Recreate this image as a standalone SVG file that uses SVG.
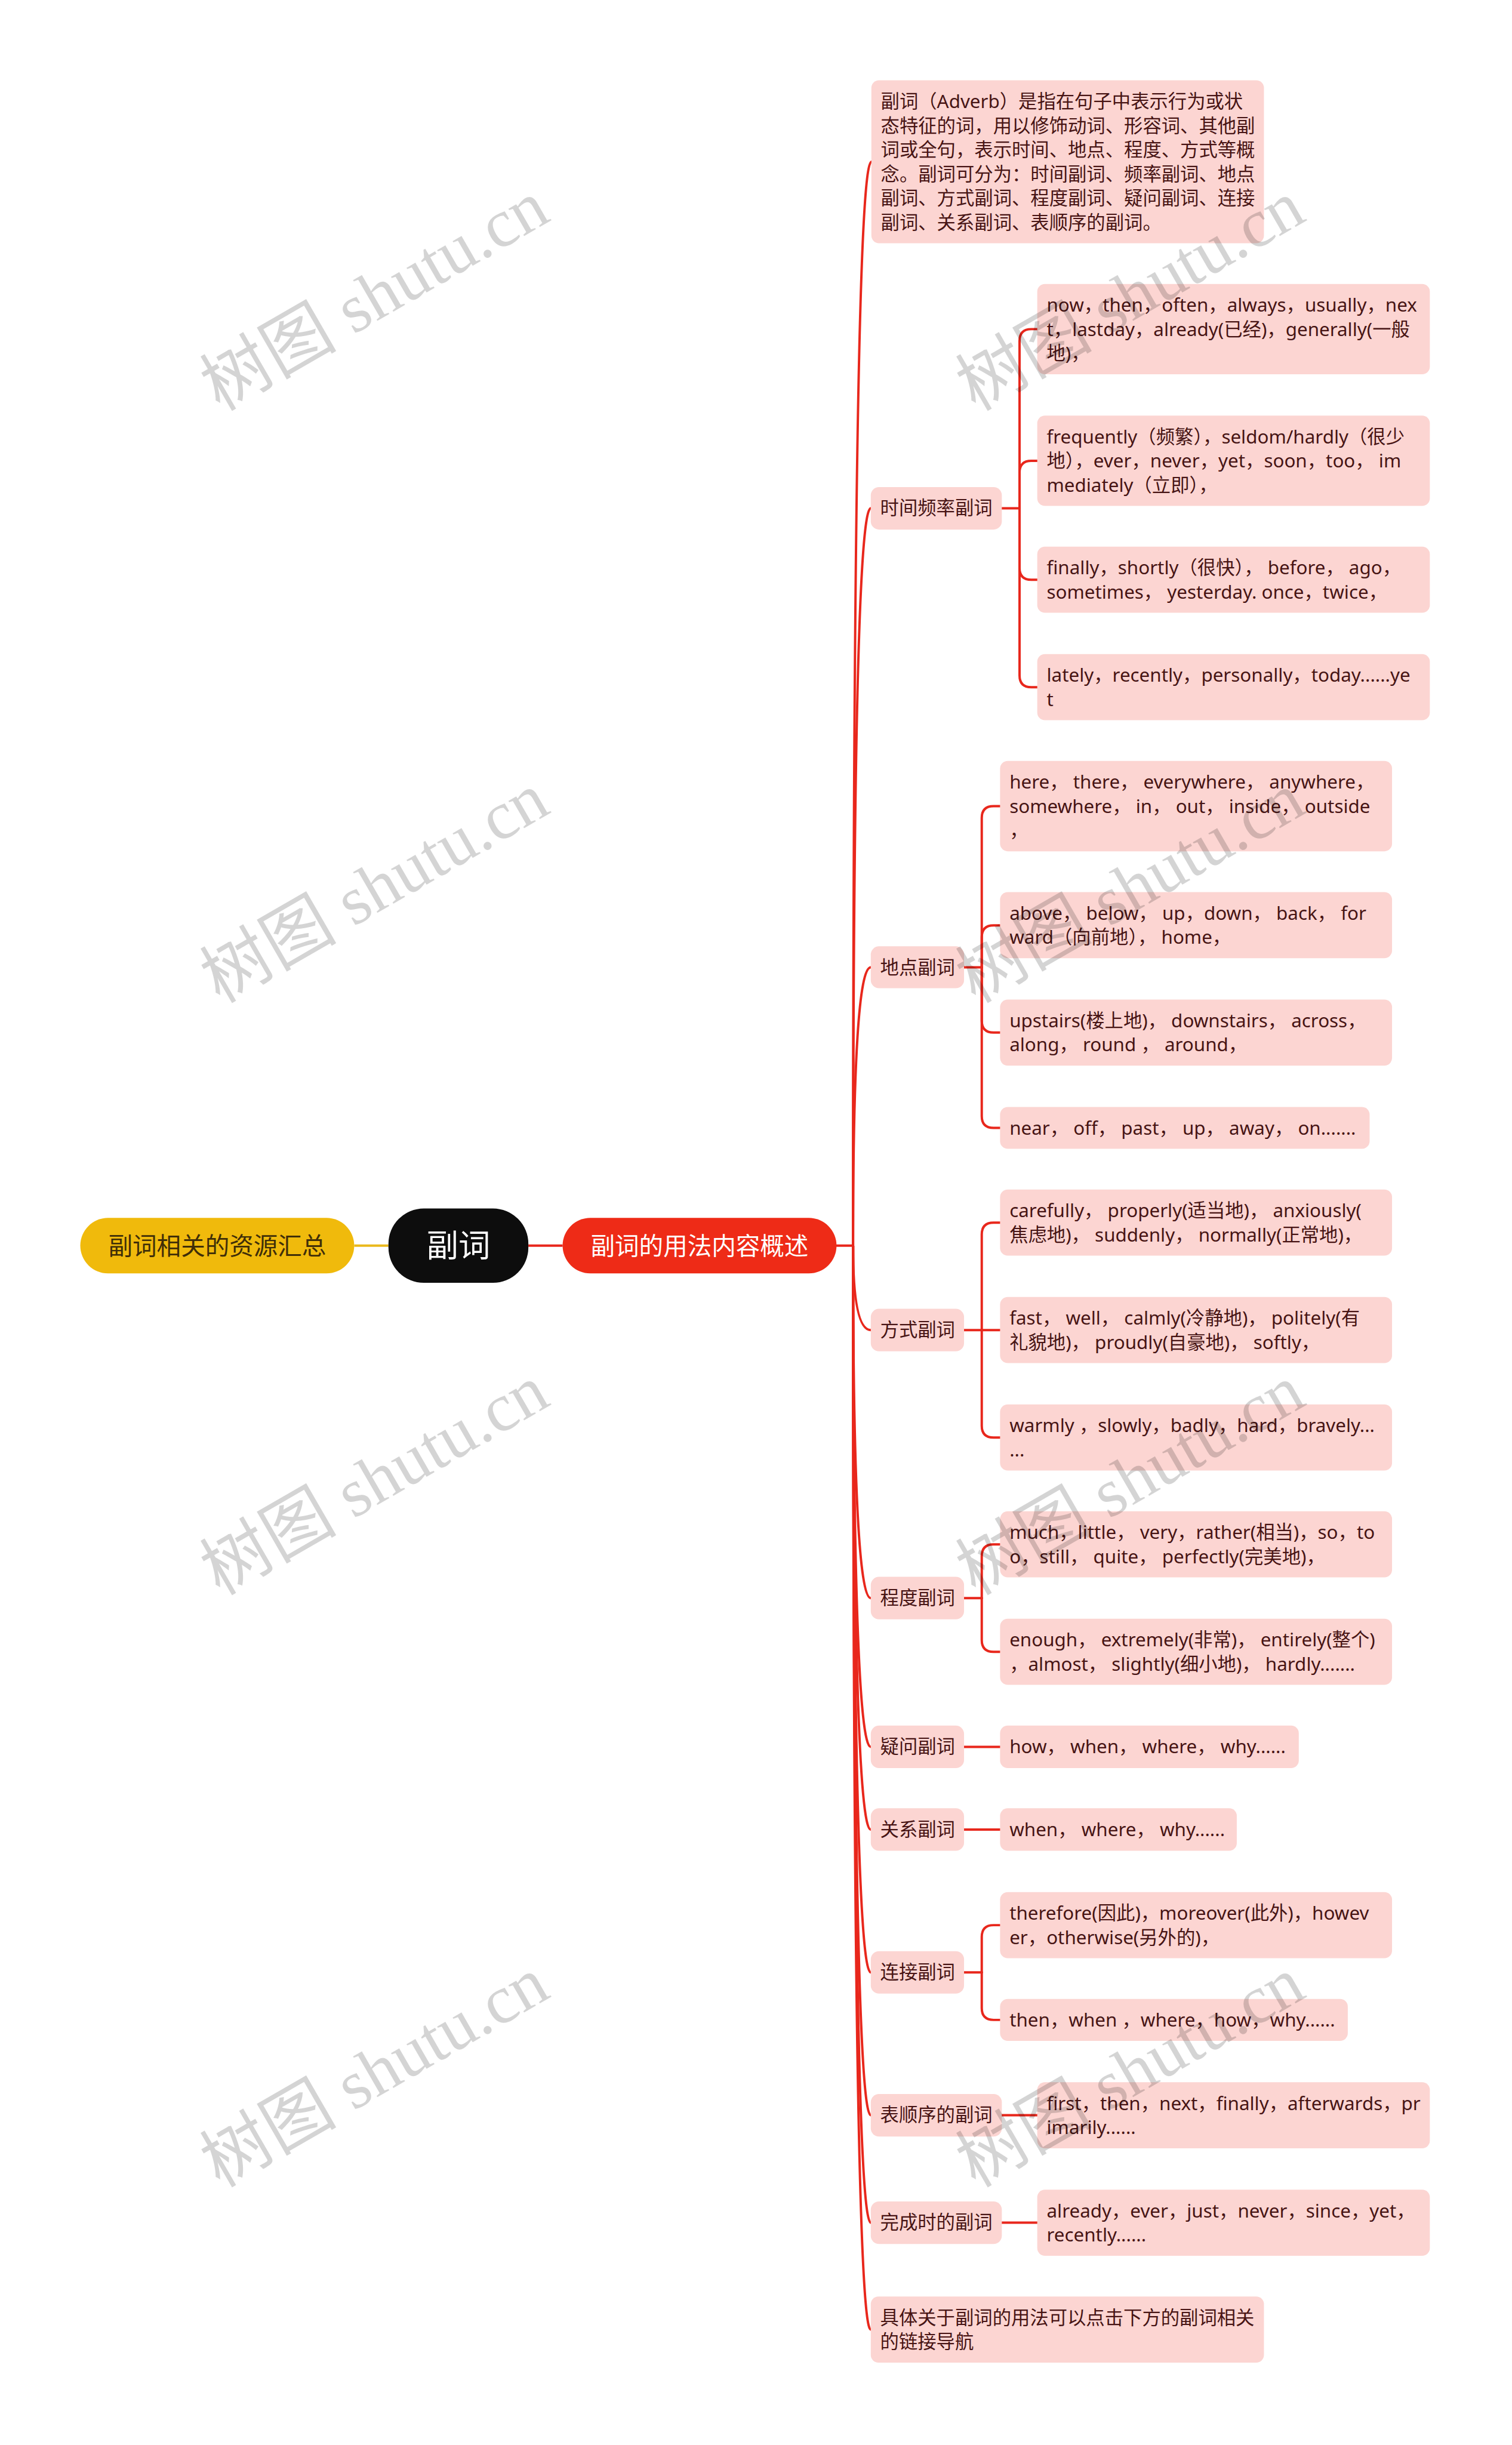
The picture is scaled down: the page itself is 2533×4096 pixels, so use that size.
<svg xmlns="http://www.w3.org/2000/svg" width="2533" height="4096" viewBox="0 0 2533 4096">
<style>
.box{fill:#fcd5d2}
.t{font-family:"Noto Sans","Noto Sans CJK SC",sans-serif;font-size:31.7px;fill:#471414}
.ln{fill:none;stroke:#e8271c;stroke-width:4;stroke-linecap:round;stroke-linejoin:round}
.wm{font-family:"Liberation Serif","Noto Sans CJK SC",serif;font-size:116px;fill:#000;fill-opacity:0.17}
</style>
<rect x="0" y="0" width="2533" height="4096" fill="#ffffff"/>
<g transform="scale(0.989)">
<g id="connectors">
<line x1="600" y1="2110" x2="658" y2="2110" stroke="#eab91c" stroke-width="4"/>
<line x1="895" y1="2110" x2="953" y2="2110" stroke="#e8271c" stroke-width="4"/>
<path class="ln" d="M1417 2110 H1445"/>
<path class="ln" d="M1445 2110 Q1445 274 1476 274"/>
<path class="ln" d="M1445 2110 Q1445 861 1475 861"/>
<path class="ln" d="M1445 2110 Q1445 1638.5 1475 1638.5"/>
<path class="ln" d="M1445 2110 Q1445 2253 1475 2253"/>
<path class="ln" d="M1445 2110 Q1445 2707 1475 2707"/>
<path class="ln" d="M1445 2110 Q1445 2959 1475 2959"/>
<path class="ln" d="M1445 2110 Q1445 3099 1475 3099"/>
<path class="ln" d="M1445 2110 Q1445 3341 1475 3341"/>
<path class="ln" d="M1445 2110 Q1445 3583 1475 3583"/>
<path class="ln" d="M1445 2110 Q1445 3765 1475 3765"/>
<path class="ln" d="M1445 2110 Q1445 3946 1475 3946"/>
<path class="ln" d="M1697 861 H1727"/>
<path class="ln" d="M1727 861 V577.5 Q1727 557.5 1747 557.5 H1757"/>
<path class="ln" d="M1727 861 V800.5 Q1727 780.5 1747 780.5 H1757"/>
<path class="ln" d="M1727 861 V962 Q1727 982 1747 982 H1757"/>
<path class="ln" d="M1727 861 V1144 Q1727 1164 1747 1164 H1757"/>
<path class="ln" d="M1633 1638.5 H1663"/>
<path class="ln" d="M1663 1638.5 V1385.5 Q1663 1365.5 1683 1365.5 H1694"/>
<path class="ln" d="M1663 1638.5 V1587.5 Q1663 1567.5 1683 1567.5 H1694"/>
<path class="ln" d="M1663 1638.5 V1729 Q1663 1749 1683 1749 H1694"/>
<path class="ln" d="M1663 1638.5 V1890.5 Q1663 1910.5 1683 1910.5 H1694"/>
<path class="ln" d="M1633 2253 H1694"/>
<path class="ln" d="M1663 2253 V2091 Q1663 2071 1683 2071 H1694"/>
<path class="ln" d="M1663 2253 V2415 Q1663 2435 1683 2435 H1694"/>
<path class="ln" d="M1633 2707 H1663"/>
<path class="ln" d="M1663 2707 V2636 Q1663 2616 1683 2616 H1694"/>
<path class="ln" d="M1663 2707 V2778 Q1663 2798 1683 2798 H1694"/>
<path class="ln" d="M1633 2959 H1694"/>
<path class="ln" d="M1633 3099 H1694"/>
<path class="ln" d="M1633 3341 H1663"/>
<path class="ln" d="M1663 3341 V3281 Q1663 3261 1683 3261 H1694"/>
<path class="ln" d="M1663 3341 V3401.5 Q1663 3421.5 1683 3421.5 H1694"/>
<path class="ln" d="M1697 3583 H1757"/>
<path class="ln" d="M1697 3765 H1757"/>
</g>

<g id="n-resource">
<rect x="136" y="2063" width="464" height="94" rx="47" fill="#f0ba0c"/>
<text x="368" y="2125" text-anchor="middle" font-family="'Noto Sans CJK SC',sans-serif" font-size="41" fill="#3f2e08">副词相关的资源汇总</text>
</g>
<g id="n-root">
<rect x="658" y="2047" width="237" height="126" rx="60" fill="#0d0d0d"/>
<text x="776.5" y="2129" text-anchor="middle" font-family="'Noto Sans CJK SC',sans-serif" font-size="54" fill="#ffffff">副词</text>
</g>
<g id="n-usage">
<rect x="953" y="2063" width="464" height="94" rx="47" fill="#ee2b17"/>
<text x="1185" y="2125" text-anchor="middle" font-family="'Noto Sans CJK SC',sans-serif" font-size="41" fill="#ffffff">副词的用法内容概述</text>
</g>

<g id="n-desc">
<rect class="box" x="1476" y="136" width="665" height="276" rx="13"/>
<text class="t" x="1492" y="183">副词（Adverb）是指在句子中表示行为或状</text>
<text class="t" x="1492" y="224">态特征的词，用以修饰动词、形容词、其他副</text>
<text class="t" x="1492" y="265">词或全句，表示时间、地点、程度、方式等概</text>
<text class="t" x="1492" y="306">念。副词可分为：时间副词、频率副词、地点</text>
<text class="t" x="1492" y="347">副词、方式副词、程度副词、疑问副词、连接</text>
<text class="t" x="1492" y="388">副词、关系副词、表顺序的副词。</text>
</g>

<g id="n-time">
<rect class="box" x="1475" y="825" width="222" height="72" rx="14"/>
<text class="t" x="1491" y="872">时间频率副词</text>
</g>
<g id="n-time-1">
<rect class="box" x="1757" y="481" width="665" height="153" rx="13"/>
<text class="t" x="1773" y="528">now，then，often，always，usually，nex</text>
<text class="t" x="1773" y="569">t，lastday，already(已经)，generally(一般</text>
<text class="t" x="1773" y="610">地)，</text>
</g>
<g id="n-time-2">
<rect class="box" x="1757" y="704" width="665" height="153" rx="13"/>
<text class="t" x="1773" y="751">frequently（频繁），seldom/hardly（很少</text>
<text class="t" x="1773" y="792">地），ever，never，yet，soon，too， im</text>
<text class="t" x="1773" y="833">mediately（立即），</text>
</g>
<g id="n-time-3">
<rect class="box" x="1757" y="926" width="665" height="112" rx="13"/>
<text class="t" x="1773" y="973">finally，shortly（很快）， before， ago，</text>
<text class="t" x="1773" y="1014">sometimes， yesterday. once，twice，</text>
</g>
<g id="n-time-4">
<rect class="box" x="1757" y="1108" width="665" height="112" rx="13"/>
<text class="t" x="1773" y="1155">lately，recently，personally，today......ye</text>
<text class="t" x="1773" y="1196">t</text>
</g>

<g id="n-place">
<rect class="box" x="1475" y="1603" width="158" height="71" rx="14"/>
<text class="t" x="1491" y="1650">地点副词</text>
</g>
<g id="n-place-1">
<rect class="box" x="1694" y="1289" width="664" height="153" rx="13"/>
<text class="t" x="1710" y="1336">here， there， everywhere， anywhere，</text>
<text class="t" x="1710" y="1377">somewhere， in， out， inside， outside</text>
<text class="t" x="1710" y="1418">，</text>
</g>
<g id="n-place-2">
<rect class="box" x="1694" y="1511" width="664" height="112" rx="13"/>
<text class="t" x="1710" y="1558">above， below， up，down， back， for</text>
<text class="t" x="1710" y="1599">ward（向前地）， home，</text>
</g>
<g id="n-place-3">
<rect class="box" x="1694" y="1693" width="664" height="112" rx="13"/>
<text class="t" x="1710" y="1740">upstairs(楼上地)， downstairs， across，</text>
<text class="t" x="1710" y="1781">along， round ， around，</text>
</g>
<g id="n-place-4">
<rect class="box" x="1694" y="1875" width="626" height="71" rx="13"/>
<text class="t" x="1710" y="1922">near， off， past， up， away， on.......</text>
</g>

<g id="n-manner">
<rect class="box" x="1475" y="2217" width="158" height="72" rx="14"/>
<text class="t" x="1491" y="2264">方式副词</text>
</g>
<g id="n-manner-1">
<rect class="box" x="1694" y="2015" width="664" height="112" rx="13"/>
<text class="t" x="1710" y="2062">carefully， properly(适当地)， anxiously(</text>
<text class="t" x="1710" y="2103">焦虑地)， suddenly， normally(正常地)，</text>
</g>
<g id="n-manner-2">
<rect class="box" x="1694" y="2197" width="664" height="112" rx="13"/>
<text class="t" x="1710" y="2244">fast， well， calmly(冷静地)， politely(有</text>
<text class="t" x="1710" y="2285">礼貌地)， proudly(自豪地)， softly，</text>
</g>
<g id="n-manner-3">
<rect class="box" x="1694" y="2379" width="664" height="112" rx="13"/>
<text class="t" x="1710" y="2426">warmly ，slowly，badly，hard，bravely...</text>
<text class="t" x="1710" y="2467">...</text>
</g>

<g id="n-degree">
<rect class="box" x="1475" y="2671" width="158" height="72" rx="14"/>
<text class="t" x="1491" y="2718">程度副词</text>
</g>
<g id="n-degree-1">
<rect class="box" x="1694" y="2560" width="664" height="112" rx="13"/>
<text class="t" x="1710" y="2607">much，little， very，rather(相当)，so，to</text>
<text class="t" x="1710" y="2648">o，still， quite， perfectly(完美地)，</text>
</g>
<g id="n-degree-2">
<rect class="box" x="1694" y="2742" width="664" height="112" rx="13"/>
<text class="t" x="1710" y="2789">enough， extremely(非常)， entirely(整个)</text>
<text class="t" x="1710" y="2830">，almost， slightly(细小地)， hardly.......</text>
</g>

<g id="n-question">
<rect class="box" x="1475" y="2923" width="158" height="72" rx="14"/>
<text class="t" x="1491" y="2970">疑问副词</text>
</g>
<g id="n-question-1">
<rect class="box" x="1694" y="2923" width="506" height="72" rx="13"/>
<text class="t" x="1710" y="2970">how， when， where， why......</text>
</g>

<g id="n-relative">
<rect class="box" x="1475" y="3063" width="158" height="72" rx="14"/>
<text class="t" x="1491" y="3110">关系副词</text>
</g>
<g id="n-relative-1">
<rect class="box" x="1694" y="3063" width="401" height="72" rx="13"/>
<text class="t" x="1710" y="3110">when， where， why......</text>
</g>

<g id="n-conj">
<rect class="box" x="1475" y="3305" width="158" height="72" rx="14"/>
<text class="t" x="1491" y="3352">连接副词</text>
</g>
<g id="n-conj-1">
<rect class="box" x="1694" y="3205" width="664" height="112" rx="13"/>
<text class="t" x="1710" y="3252">therefore(因此)，moreover(此外)，howev</text>
<text class="t" x="1710" y="3293">er，otherwise(另外的)，</text>
</g>
<g id="n-conj-2">
<rect class="box" x="1694" y="3386" width="589" height="71" rx="13"/>
<text class="t" x="1710" y="3433">then，when ，where，how，why......</text>
</g>

<g id="n-order">
<rect class="box" x="1475" y="3547" width="222" height="72" rx="14"/>
<text class="t" x="1491" y="3594">表顺序的副词</text>
</g>
<g id="n-order-1">
<rect class="box" x="1757" y="3527" width="665" height="112" rx="13"/>
<text class="t" x="1773" y="3574">first，then，next，finally，afterwards，pr</text>
<text class="t" x="1773" y="3615">imarily......</text>
</g>

<g id="n-perfect">
<rect class="box" x="1475" y="3729" width="222" height="72" rx="14"/>
<text class="t" x="1491" y="3776">完成时的副词</text>
</g>
<g id="n-perfect-1">
<rect class="box" x="1757" y="3709" width="665" height="112" rx="13"/>
<text class="t" x="1773" y="3756">already，ever，just，never，since，yet，</text>
<text class="t" x="1773" y="3797">recently......</text>
</g>

<g id="n-more">
<rect class="box" x="1475" y="3890" width="666" height="112" rx="13"/>
<text class="t" x="1491" y="3937">具体关于副词的用法可以点击下方的副词相关</text>
<text class="t" x="1491" y="3978">的链接导航</text>
</g>

<g id="watermarks">
<text class="wm" transform="translate(654 535) rotate(-30)" text-anchor="middle">树图 shutu.cn</text>
<text class="wm" transform="translate(1934 535) rotate(-30)" text-anchor="middle">树图 shutu.cn</text>
<text class="wm" transform="translate(654 1538) rotate(-30)" text-anchor="middle">树图 shutu.cn</text>
<text class="wm" transform="translate(1934 1538) rotate(-30)" text-anchor="middle">树图 shutu.cn</text>
<text class="wm" transform="translate(654 2541) rotate(-30)" text-anchor="middle">树图 shutu.cn</text>
<text class="wm" transform="translate(1934 2541) rotate(-30)" text-anchor="middle">树图 shutu.cn</text>
<text class="wm" transform="translate(654 3544) rotate(-30)" text-anchor="middle">树图 shutu.cn</text>
<text class="wm" transform="translate(1934 3544) rotate(-30)" text-anchor="middle">树图 shutu.cn</text>
</g>
</g>
</svg>
